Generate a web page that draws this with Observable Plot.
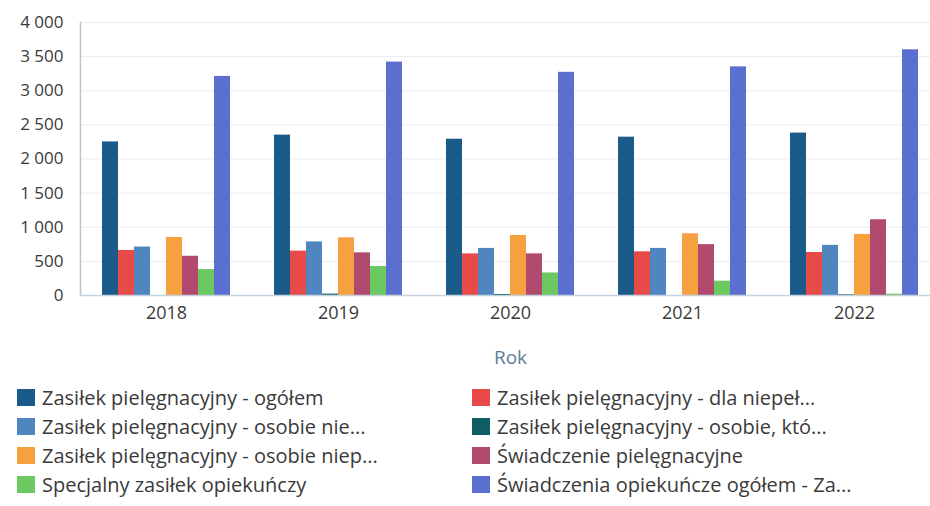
<!DOCTYPE html>
<html>
<head>
<meta charset="utf-8">
<script src="https://cdn.jsdelivr.net/npm/d3@7"></script>
<script src="https://cdn.jsdelivr.net/npm/@observablehq/plot@0.6"></script>
<style>
  html, body { margin: 0; padding: 0; background: #fff; }
  body { width: 930px; height: 506px; overflow: hidden; font-family: "Open Sans", sans-serif; }
  #chart svg { display: block; }
  g[aria-label="fx-axis label"] text { fill: #5b7d9a; font-size: 19px; }
  #legend {
    display: grid;
    grid-template-columns: 455px 455px;
    grid-auto-rows: 29px;
    padding-left: 17px;
    margin-top: 3px;
    font-size: 20px;
    color: #3a3a3a;
  }
  .item { display: flex; align-items: center; white-space: nowrap; }
  .sw { width: 18px; height: 17px; margin-right: 7px; flex: none; }
</style>
</head>
<body>
<div id="chart"></div>
<div id="legend"></div>
<script>
const years = ["2018", "2019", "2020", "2021", "2022"];
const seriesNames = [
  "Zasiłek pielęgnacyjny - ogółem",
  "Zasiłek pielęgnacyjny - dla niepeł...",
  "Zasiłek pielęgnacyjny - osobie nie...",
  "Zasiłek pielęgnacyjny - osobie, któ...",
  "Zasiłek pielęgnacyjny -  osobie niep...",
  "Świadczenie pielęgnacyjne",
  "Specjalny zasiłek opiekuńczy",
  "Świadczenia opiekuńcze ogółem - Za..."
];
const seriesColors = ["#1b5b8a", "#e84a4a", "#4f86c0", "#0f5e63", "#f7a040", "#b04a6e", "#6cc860", "#5a6fd0"];
// values per series, in year order
const zasilekOgolem      = [2250, 2350, 2290, 2320, 2380];
const dlaNiepel          = [660, 650, 610, 640, 630];
const osobieNie          = [710, 785, 690, 690, 735];
const osobieKto          = [0, 20, 15, 0, 10];
const osobieNiep         = [850, 845, 880, 905, 895];
const swiadczeniePiel    = [575, 625, 610, 745, 1110];
const specjalny          = [380, 425, 330, 210, 20];
const swiadczeniaOgolem  = [3210, 3420, 3270, 3350, 3600];
const yTicks = [0, 500, 1000, 1500, 2000, 2500, 3000, 3500, 4000];

const seriesValues = [zasilekOgolem, dlaNiepel, osobieNie, osobieKto, osobieNiep, swiadczeniePiel, specjalny, swiadczeniaOgolem];
const data = [];
years.forEach((yr, i) => seriesNames.forEach((s, j) => data.push({year: yr, series: s, value: seriesValues[j][i]})));

const fmt = d3.formatLocale({decimal: ",", thousands: " ", grouping: [3], currency: ["", ""]}).format(",d");

const chart = Plot.plot({
  width: 930,
  height: 380,
  marginLeft: 80,
  marginRight: -10,
  marginTop: 22,
  marginBottom: 85,
  style: {fontFamily: "'Open Sans', sans-serif", fontSize: "17px", color: "#3a3a3a", background: "#fff", overflow: "hidden"},
  fx: {domain: years, padding: 0, label: null, axis: null},
  x: {domain: seriesNames, paddingInner: 0, paddingOuter: 1.2, axis: null},
  y: {domain: [0, 4000], label: null, axis: null},
  color: {domain: seriesNames, range: seriesColors},
  marks: [
    Plot.gridY(yTicks, {stroke: "#ebebeb", strokeOpacity: 1}),
    Plot.frame({anchor: "left", facetAnchor: "left", stroke: "#b8c6d4", strokeWidth: 1.5}),
    Plot.barY(data, {fx: "year", x: "series", y: "value", fill: "series", inset: 0}),
    Plot.ruleY([0], {stroke: "#c5d2de", strokeWidth: 1.5}),
    Plot.axisY({ticks: yTicks, tickFormat: fmt, tickSize: 0, tickPadding: 17, label: null, fill: "#3a3a3a", fontSize: 17}),
    Plot.axisFx({anchor: "bottom", tickSize: 0, tickPadding: 11, label: "Rok", labelAnchor: "center", labelOffset: 68, fontSize: 18, fill: "#3a3a3a"})
  ]
});
document.getElementById("chart").appendChild(chart);

const legend = document.getElementById("legend");
// two columns, row-major
seriesNames.forEach((s, j) => {
  const item = document.createElement("div");
  item.className = "item";
  const sw = document.createElement("span");
  sw.className = "sw";
  sw.style.background = seriesColors[j];
  const t = document.createElement("span");
  t.textContent = s;
  item.appendChild(sw);
  item.appendChild(t);
  legend.appendChild(item);
});
</script>
</body>
</html>
